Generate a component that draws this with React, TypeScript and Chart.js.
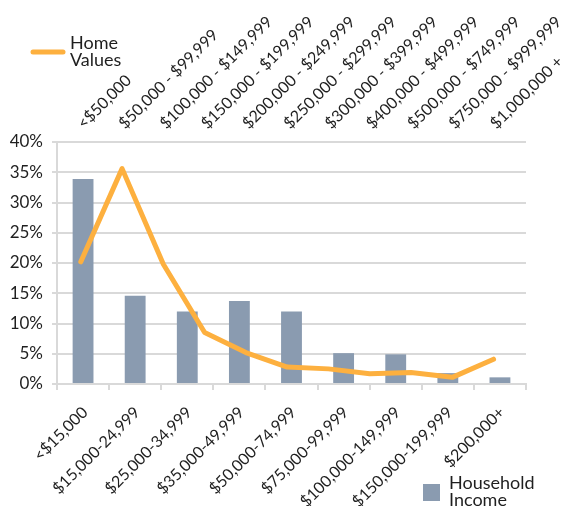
import React, { useEffect, useRef } from "react";
import { Chart, registerables } from "chart.js";

Chart.register(...registerables);

const incomeLabels = [
  "<$15,000",
  "$15,000-24,999",
  "$25,000-34,999",
  "$35,000-49,999",
  "$50,000-74,999",
  "$75,000-99,999",
  "$100,000-149,999",
  "$150,000-199,999",
  "$200,000+",
];
const incomeValues = [33.9, 14.6, 12.0, 13.7, 12.0, 5.1, 4.9, 1.8, 1.1];

const homeLabels = [
  "<$50,000",
  "$50,000 - $99,999",
  "$100,000 - $149,999",
  "$150,000 - $199,999",
  "$200,000 - $249,999",
  "$250,000 - $299,999",
  "$300,000 - $399,999",
  "$400,000 - $499,999",
  "$500,000 - $749,999",
  "$750,000 - $999,999",
  "$1,000,000 +",
];
const homeValues = [20.2, 35.6, 19.8, 8.5, 5.2, 2.8, 2.5, 1.7, 1.9, 1.1, 4.1];

const yTicks = [0, 5, 10, 15, 20, 25, 30, 35, 40];

const FONT = "Lato, 'Open Sans', sans-serif";
const TEXT = "#1f1f1f";
const GRID = "#d9d9d9";
const BAR = "#8a9bb0";
const LINE = "#fdb03f";

const legendPlugin = {
  id: "customLegend",
  afterDraw(chart: any) {
    const ctx = chart.ctx;
    ctx.save();
    ctx.strokeStyle = LINE;
    ctx.lineWidth = 5;
    ctx.lineCap = "round";
    ctx.beginPath();
    ctx.moveTo(33, 52);
    ctx.lineTo(63, 52);
    ctx.stroke();
    ctx.fillStyle = TEXT;
    ctx.font = `18px ${FONT}`;
    ctx.textBaseline = "alphabetic";
    ctx.textAlign = "left";
    ctx.fillText("Home", 70, 49);
    ctx.fillText("Values", 70, 66);
    ctx.fillStyle = BAR;
    ctx.fillRect(423, 484, 17, 17);
    ctx.fillStyle = TEXT;
    ctx.fillText("Household", 449, 489);
    ctx.fillText("Income", 449, 506);
    ctx.restore();
  },
};

export default function App() {
  const ref = useRef<HTMLCanvasElement | null>(null);

  useEffect(() => {
    document.body.style.margin = "0";
    const canvas = ref.current;
    if (!canvas) return;
    let chart: Chart | null = null;
    let cancelled = false;

    const build = () => {
      if (cancelled) return;
      chart = new Chart(canvas, {
        type: "bar",
        data: {
          labels: incomeLabels,
          datasets: [
            {
              type: "line",
              label: "Home Values",
              data: homeValues.map((v, i) => ({ x: i, y: v })),
              xAxisID: "x2",
              yAxisID: "y",
              borderColor: LINE,
              backgroundColor: LINE,
              borderWidth: 5,
              borderCapStyle: "round",
              borderJoinStyle: "round",
              pointRadius: 0,
              tension: 0,
              order: 0,
            } as any,
            {
              type: "bar",
              label: "Household Income",
              data: incomeValues,
              xAxisID: "x",
              yAxisID: "y",
              backgroundColor: BAR,
              barPercentage: 1,
              categoryPercentage: 0.4,
              grouped: false,
              order: 1,
            },
          ],
        },
        options: {
          responsive: false,
          animation: false,
          layout: { padding: { left: 0, right: 41, top: 0, bottom: 0 } },
          plugins: {
            legend: { display: false },
            tooltip: { enabled: false },
          },
          scales: {
            y: {
              min: 0,
              max: 40,
              afterBuildTicks: (s: any) => {
                s.ticks = yTicks.map((v) => ({ value: v }));
              },
              ticks: {
                callback: (v: any) => `${v}%`,
                color: TEXT,
                font: { family: FONT, size: 17 },
                padding: 9,
              },
              grid: { color: GRID, lineWidth: 2, tickLength: 5 },
              border: { color: GRID, width: 2 },
              afterFit: (s: any) => {
                s.width = 57;
                s.paddingTop = 0;
                s.paddingBottom = 0;
              },
            },
            x: {
              type: "category",
              position: "bottom",
              offset: true,
              ticks: {
                color: TEXT,
                font: { family: FONT, size: 16 },
                minRotation: 45,
                maxRotation: 45,
                autoSkip: false,
                padding: 13,
                labelOffset: 2,
              },
              grid: {
                color: GRID,
                lineWidth: 2,
                drawOnChartArea: false,
                tickLength: 6,
                offset: true,
              },
              border: { color: GRID, width: 2 },
              afterFit: (s: any) => {
                s.height = 122;
                s.paddingLeft = 0;
                s.paddingRight = 0;
              },
            },
            x2: {
              type: "linear",
              position: "top",
              offset: false,
              min: -0.577,
              max: 10.786,
              ticks: {
                stepSize: 1,
                includeBounds: false,
                autoSkip: false,
                minRotation: 45,
                maxRotation: 45,
                color: TEXT,
                font: { family: FONT, size: 16 },
                padding: 1,
                labelOffset: 13,
                callback: (v: any) => {
                  const i = Math.round(Number(v));
                  return Math.abs(Number(v) - i) < 1e-6 && homeLabels[i] !== undefined ? homeLabels[i] : "";
                },
              },
              grid: { display: false, offset: false },
              border: { display: false },
              afterFit: (s: any) => {
                s.height = 142;
                s.paddingLeft = 0;
                s.paddingRight = 0;
              },
            },
          },
        } as any,
        plugins: [legendPlugin],
      });
    };

    const f: any = (document as any).fonts;
    if (f && f.load) {
      Promise.all([f.load(`17px Lato`), f.load(`16px Lato`)]).then(build, build);
    } else {
      build();
    }

    return () => {
      cancelled = true;
      if (chart) chart.destroy();
    };
  }, []);

  return (
    <div style={{ position: "absolute", left: 0, top: 0, width: 567, height: 506 }}>
      <canvas ref={ref} width={567} height={506} style={{ display: "block" }} />
    </div>
  );
}
